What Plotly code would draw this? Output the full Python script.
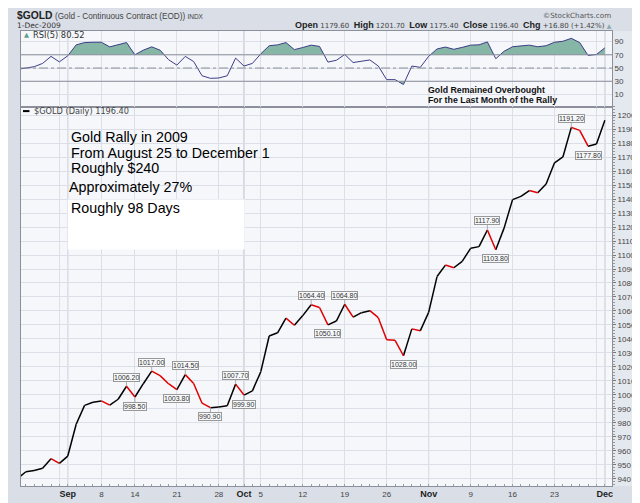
import plotly.graph_objects as go

# ---------------- data ----------------
dates = [
    "2009-08-24", "2009-08-25", "2009-08-26", "2009-08-27", "2009-08-28", "2009-08-31",
    "2009-09-01", "2009-09-02", "2009-09-03", "2009-09-04", "2009-09-08", "2009-09-09",
    "2009-09-10", "2009-09-11", "2009-09-14", "2009-09-15", "2009-09-16", "2009-09-17",
    "2009-09-18", "2009-09-21", "2009-09-22", "2009-09-23", "2009-09-24", "2009-09-25",
    "2009-09-28", "2009-09-29", "2009-09-30",
    "2009-10-01", "2009-10-02", "2009-10-05", "2009-10-06", "2009-10-07", "2009-10-08",
    "2009-10-09", "2009-10-12", "2009-10-13", "2009-10-14", "2009-10-15", "2009-10-16",
    "2009-10-19", "2009-10-20", "2009-10-21", "2009-10-22", "2009-10-23", "2009-10-26",
    "2009-10-27", "2009-10-28", "2009-10-29", "2009-10-30",
    "2009-11-02", "2009-11-03", "2009-11-04", "2009-11-05", "2009-11-06", "2009-11-09",
    "2009-11-10", "2009-11-11", "2009-11-12", "2009-11-13", "2009-11-16", "2009-11-17",
    "2009-11-18", "2009-11-19", "2009-11-20", "2009-11-23", "2009-11-24", "2009-11-25",
    "2009-11-26", "2009-11-27", "2009-11-30",
    "2009-12-01",
]

close = [
    940.2, 945.1, 946.0, 947.6, 954.4, 951.1,
    956.3, 979.0, 992.5, 994.8, 995.7, 992.7,
    996.9, 1006.2, 998.5, 1008.0, 1017.0, 1013.8,
    1008.0, 1003.8, 1014.5, 1008.2, 994.1, 990.9,
    991.3, 992.2, 1007.7,
    999.9, 1002.9, 1016.6, 1042.1, 1044.4, 1054.9,
    1049.8, 1056.7, 1064.4, 1062.5, 1050.1, 1052.8,
    1064.8, 1055.6, 1058.8, 1060.2, 1055.2, 1039.5,
    1039.0, 1028.0, 1047.2, 1045.8,
    1059.0, 1084.6, 1092.8, 1090.9, 1095.5, 1104.8,
    1106.0, 1117.9, 1103.8, 1119.4, 1139.6, 1141.9,
    1146.1, 1144.5, 1150.8, 1165.9, 1170.1, 1191.2,
    1189.1, 1177.8, 1179.3,
    1196.4,
]

rsi5 = [
    48.0, 50.5, 52.0, 57.0, 67.6, 59.3,
    68.5, 85.0, 88.5, 89.0, 89.0, 82.0,
    85.0, 88.5, 70.0, 77.0, 82.0, 77.0,
    62.7, 54.4, 67.6, 59.8, 38.3, 34.4,
    34.9, 38.3, 65.0,
    53.0, 57.0, 71.5, 83.7, 85.0, 88.5,
    77.8, 81.0, 84.6, 82.7, 59.0, 61.7,
    70.5, 58.3, 60.7, 62.2, 53.0, 32.4,
    32.4, 25.1, 53.0, 51.0,
    67.6, 78.8, 81.7, 78.3, 81.2, 84.6,
    85.1, 89.5, 64.1, 75.4, 82.2, 83.7,
    84.6, 82.2, 83.7, 89.0, 90.5, 94.9,
    88.5, 69.0, 70.5,
    80.52,
]

tick_dates = ["2009-08-31", "2009-09-01", "2009-09-08", "2009-09-14", "2009-09-21",
              "2009-09-28", "2009-10-01", "2009-10-05", "2009-10-12", "2009-10-19",
              "2009-10-26", "2009-11-02", "2009-11-09", "2009-11-16", "2009-11-23",
              "2009-11-30", "2009-12-01"]
tick_labels = ["", "Sep", "8", "14", "21", "28", "Oct", "5", "12", "19", "26",
               "Nov", "9", "16", "23", "", "Dec"]
month_starts = ["2009-09-01", "2009-10-01", "2009-11-02", "2009-12-01"]

peak_dates = ["2009-09-11", "2009-09-16", "2009-09-22", "2009-09-30",
              "2009-10-13", "2009-10-19", "2009-11-11", "2009-11-25"]
trough_dates = ["2009-09-14", "2009-09-21", "2009-09-25", "2009-10-01",
                "2009-10-15", "2009-10-28", "2009-11-12", "2009-11-27"]

rsi_upper, rsi_mid, rsi_lower = 70, 50, 30
rsi_ticks = [10, 30, 50, 70, 90]

ohlc_labels = ["Open", "High", "Low", "Close", "Chg"]
ohlc_values = ["1179.60", "1201.70", "1175.40", "1196.40", "+16.80 (+1.42%)"]

notes = ["Gold Rally in 2009", "From August 25 to December 1", "Roughly $240",
         "Approximately 27%", "Roughly 98 Days"]
rsi_note = ["Gold Remained Overbought", "For the Last Month of the Rally"]

# ---------------- styles / helpers ----------------
W, H = 640, 503
ML, MR, MT, MB = 12, 34, 23, 13
PW, PH = W - ML - MR, H - MT - MB
SANS = "Liberation Sans, Arial, sans-serif"
SMALL = "DejaVu Sans, Verdana, sans-serif"
UP, DOWN = "#000000", "#e00000"
GRID = "#dcdfe8"
NB = "\u00a0"


def px(xp):
    return (xp - ML) / PW


def py(yp):
    return (H - MB - yp) / PH


split = (H - MB - 100.7) / PH  # boundary between price panel and RSI panel

idx = {d: i for i, d in enumerate(dates)}
xs = list(range(len(dates)))

fig = go.Figure()


# ---- RSI fills (clip series to a level, inserting crossing points) ----
def clipped(level, above):
    cx, cy = [], []
    for i in range(len(xs)):
        if i > 0:
            y0, y1 = rsi5[i - 1], rsi5[i]
            if (y0 - level) * (y1 - level) < 0:
                t = (level - y0) / (y1 - y0)
                cx.append(xs[i - 1] + t * (xs[i] - xs[i - 1]))
                cy.append(level)
        cx.append(xs[i])
        cy.append(max(rsi5[i], level) if above else min(rsi5[i], level))
    return cx, cy


for level, above in [(rsi_upper, True), (rsi_lower, False)]:
    cx, cy = clipped(level, above)
    fig.add_trace(go.Scatter(x=cx, y=[level] * len(cx), mode="lines",
                             line=dict(width=0, color="rgba(0,0,0,0)"),
                             xaxis="x2", yaxis="y2", hoverinfo="skip", showlegend=False))
    fig.add_trace(go.Scatter(x=cx, y=cy, mode="lines", fill="tonexty",
                             fillcolor="#86b6a5", line=dict(width=0, color="rgba(0,0,0,0)"),
                             xaxis="x2", yaxis="y2", hoverinfo="skip", showlegend=False))

fig.add_trace(go.Scatter(x=xs, y=rsi5, mode="lines", line=dict(color="#3d3d86", width=1),
                         xaxis="x2", yaxis="y2", showlegend=False))

# ---- price line, coloured by up/down close ----
seg = {UP: ([], []), DOWN: ([], [])}
for i in range(1, len(close)):
    c = DOWN if close[i] < close[i - 1] else UP
    sx, sy = seg[c]
    sx += [xs[i - 1], xs[i], None]
    sy += [close[i - 1], close[i], None]
for c, (sx, sy) in seg.items():
    fig.add_trace(go.Scatter(x=sx, y=sy, mode="lines", line=dict(color=c, width=1.5),
                             connectgaps=False, xaxis="x", yaxis="y", showlegend=False))

# ---------------- annotations ----------------
ann = []
lab_font = dict(family=SANS, size=7, color="#333")
for d in peak_dates:
    ann.append(dict(x=idx[d], y=close[idx[d]], xref="x", yref="y", text=f"{close[idx[d]]:.2f}",
                    showarrow=True, arrowhead=0, arrowwidth=0.8, arrowcolor="#999",
                    ax=0, ay=-9, font=lab_font, bgcolor="#f7f8fa", bordercolor="#999",
                    borderwidth=1, borderpad=0))
for d in trough_dates:
    ann.append(dict(x=idx[d], y=close[idx[d]], xref="x", yref="y", text=f"{close[idx[d]]:.2f}",
                    showarrow=True, arrowhead=0, arrowwidth=0.8, arrowcolor="#999",
                    ax=0, ay=9, font=lab_font, bgcolor="#f7f8fa", bordercolor="#999",
                    borderwidth=1, borderpad=0))

note_pos = [(60, 131.7), (60, 148.3), (60, 164.0), (58.3, 183.3), (60, 205.0)]
for t, (xp, yp) in zip(notes, note_pos):
    ann.append(dict(x=px(xp), y=py(yp), xref="paper", yref="paper", text=t, showarrow=False,
                    xanchor="left", yanchor="middle", font=dict(family=SANS, size=14.3, color="#000")))

for t, yp in zip(rsi_note, [83.3, 94.0]):
    ann.append(dict(x=px(419), y=py(yp), xref="paper", yref="paper", text=f"<b>{t}</b>",
                    showarrow=False, xanchor="left", yanchor="middle",
                    font=dict(family=SANS, size=8.8, color="#111")))

# header
ann.append(dict(x=px(5.5), y=py(7.5), xref="paper", yref="paper", text="<b>$GOLD</b>",
                showarrow=False, xanchor="left", yanchor="middle",
                font=dict(family=SANS, size=10.3, color="#222")))
ann.append(dict(x=px(44), y=py(7.8), xref="paper", yref="paper",
                text="(Gold - Continuous Contract (EOD)) <span style=\"font-size:6.5px\">INDX</span>",
                showarrow=False, xanchor="left", yanchor="middle",
                font=dict(family=SANS, size=8.2, color="#444")))
ann.append(dict(x=px(6), y=py(17.0), xref="paper", yref="paper", text="1-Dec-2009",
                showarrow=False, xanchor="left", yanchor="middle",
                font=dict(family=SMALL, size=7.5, color="#333")))
ann.append(dict(x=px(607), y=py(7.3), xref="paper", yref="paper", text="©StockCharts.com",
                showarrow=False, xanchor="right", yanchor="middle",
                font=dict(family=SMALL, size=7.2, color="#555")))
ohlc_text = (NB * 2).join(
    f"<span style=\"font-family:Liberation Sans,Arial,sans-serif;font-size:9px;color:#222\"><b>{l}</b></span>{NB}{v}"
    for l, v in zip(ohlc_labels, ohlc_values)) + f"{NB}<span style=\"font-size:6px;color:#8aa\">▲</span>"
ann.append(dict(x=px(608), y=py(17.3), xref="paper", yref="paper", text=ohlc_text,
                showarrow=False, xanchor="right", yanchor="middle",
                font=dict(family=SMALL, size=7.0, color="#444")))

ann.append(dict(x=px(13.5), y=py(26.8), xref="paper", yref="paper", text="▲",
                showarrow=False, xanchor="left", yanchor="middle",
                font=dict(family=SMALL, size=6.5, color="#5f9f8f")))
ann.append(dict(x=px(22.5), y=py(26.8), xref="paper", yref="paper", text=f"RSI(5) {rsi5[-1]:.2f}",
                showarrow=False, xanchor="left", yanchor="middle",
                font=dict(family=SMALL, size=8.3, color="#333")))
ann.append(dict(x=px(23.5), y=py(105.2), xref="paper", yref="paper",
                text=f"$GOLD (Daily) {close[-1]:.2f}",
                showarrow=False, xanchor="left", yanchor="middle",
                font=dict(family=SMALL, size=8.2, color="#444")))

# ---------------- shapes ----------------
shapes = []
shapes.append(dict(type="rect", xref="paper", yref="paper", x0=1, x1=px(633), y0=0, y1=1,
                   fillcolor="#e4e8ef", line=dict(width=0), layer="below"))
for d in month_starts:
    shapes.append(dict(type="line", xref="x", yref="paper", x0=idx[d], x1=idx[d], y0=0, y1=1,
                       line=dict(color="#b7bbc6", width=1), layer="below"))
for lv in (rsi_upper, rsi_lower):
    shapes.append(dict(type="line", xref="paper", yref="y2", x0=0, x1=1, y0=lv, y1=lv,
                       line=dict(color="#8a8f99", width=1), layer="above"))
shapes.append(dict(type="line", xref="paper", yref="y2", x0=0, x1=1, y0=rsi_mid, y1=rsi_mid,
                   line=dict(color="#8a8f99", width=1, dash="dashdot"), layer="above"))
shapes.append(dict(type="rect", xref="paper", yref="paper", x0=px(59), x1=px(236.7),
                   y0=py(247.3), y1=py(196), fillcolor="#ffffff", line=dict(width=0), layer="above"))
shapes.append(dict(type="line", xref="paper", yref="paper", x0=px(14), x1=px(20.5),
                   y0=py(105.2), y1=py(105.2), line=dict(color="#000", width=2)))

tickvals = [idx[d] for d in tick_dates]
ticktext = [f"<b><span style=\"font-size:9px;color:#222\">{t}</span></b>" if t.isalpha() else t
            for t in tick_labels]
xrange_ = [0.425, 70.85]

fig.update_layout(
    width=W, height=H,
    margin=dict(l=ML, r=MR, t=MT, b=MB, pad=0),
    paper_bgcolor="#d9dee7", plot_bgcolor="#f5f7fb",
    font=dict(family=SANS, size=8, color="#444"),
    showlegend=False,
    xaxis=dict(domain=[0, 1], anchor="y", range=xrange_, tickmode="array", tickvals=tickvals,
               ticktext=ticktext, showgrid=True, gridcolor=GRID, gridwidth=1, zeroline=False,
               showline=True, linecolor="#8c909a", linewidth=1, mirror=True, ticks="",
               tickfont=dict(family=SANS, size=8, color="#444"),
               minor=dict(tickmode="linear", tick0=0, dtick=1, ticks="inside", ticklen=2,
                          tickcolor="#9a9ea8", showgrid=False)),
    yaxis=dict(domain=[0, split], anchor="x", side="right", range=[934.9, 1206], tick0=0, dtick=10,
               showgrid=True, gridcolor=GRID, zeroline=False, showline=True, linecolor="#8c909a",
               mirror=True, ticks="outside", ticklen=3, tickcolor="#777",
               tickfont=dict(family=SANS, size=8, color="#444"),
               minor=dict(dtick=2, ticks="outside", ticklen=1.5, tickcolor="#999", showgrid=False)),
    xaxis2=dict(domain=[0, 1], anchor="y2", matches="x", range=xrange_, tickmode="array",
                tickvals=tickvals, showticklabels=False, showgrid=True, gridcolor=GRID,
                zeroline=False, showline=True, linecolor="#8c909a", mirror=True, ticks=""),
    yaxis2=dict(domain=[split, 1], anchor="x2", side="right", range=[-8.5, 106],
                tickmode="array", tickvals=rsi_ticks, showgrid=True, gridcolor=GRID,
                zeroline=False, showline=True, linecolor="#8c909a", mirror=True, ticks="",
                tickfont=dict(family=SANS, size=8, color="#444")),
    annotations=ann,
    shapes=shapes,
)

fig.write_html("out.html")
